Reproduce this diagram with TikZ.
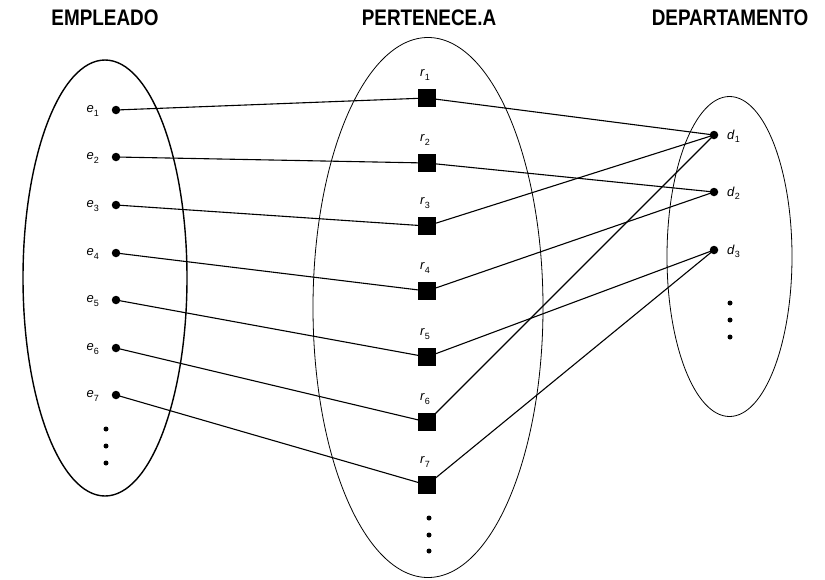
\documentclass[tikz,border=0pt]{standalone}
\usepackage{fontspec}
\setmainfont{Liberation Sans}
\setsansfont{Liberation Sans}
\newfontfamily\titlefont[FakeStretch=0.84]{Liberation Sans}
\newcommand\lbl[2]{\textit{#1}\raisebox{-0.45ex}{\fontsize{9}{9}\selectfont #2}}
\begin{document}
\begin{tikzpicture}[x=1pt,y=-1pt,
  title/.style={font=\titlefont\bfseries\fontsize{22.5}{22.5}\selectfont, anchor=base, inner sep=0},
  edot/.style={circle, fill=black, inner sep=0, minimum size=8.5pt},
  rbox/.style={rectangle, fill=black, inner sep=0, minimum size=18pt},
  sdot/.style={circle, fill=black, inner sep=0, minimum size=5pt},
  lab/.style={font=\fontsize{13}{13}\selectfont, inner sep=0},
  link/.style={line width=1.1pt},
  setline/.style={line width=0.8pt}]
\useasboundingbox (0,0) rectangle (825,579);
% titles
\node[title] (tE) at (105,25) {EMPLEADO};
\node[title] (tR) at (429,25) {PERTENECE.A};
\node[title] (tD) at (730,25) {DEPARTAMENTO};
% sets
\draw[line width=1.4pt] (105,278) ellipse [x radius=82, y radius=218];
\draw[setline] (428,307.5) ellipse [x radius=115, y radius=270];
\draw[setline] (729.5,256.5) ellipse [x radius=62.5, y radius=160];
% employees
\foreach \i/\y in {1/110,2/157,3/205,4/253,5/300,6/348,7/395}{
  \node[edot] (e\i) at (116,\y) {};
  \node[lab, anchor=east] (le\i) at (99,\y+1) {\lbl{e}{\i}};
}
\node[sdot] (ed1) at (106,429) {};
\node[sdot] (ed2) at (106,446) {};
\node[sdot] (ed3) at (106,463) {};
% relationship instances
\foreach \i/\y in {1/98,2/163,3/226,4/291,5/357,6/422,7/485}{
  \node[rbox] (r\i) at (427,\y) {};
  \node[lab] (lr\i) at (425,\y-23) {\lbl{r}{\i}};
}
\node[sdot] (rd1) at (429,518) {};
\node[sdot] (rd2) at (429,535) {};
\node[sdot] (rd3) at (429,551) {};
% departments
\foreach \i/\y in {1/135,2/192,3/250}{
  \node[edot] (d\i) at (714,\y) {};
  \node[lab, anchor=west] (ld\i) at (727,\y+1) {\lbl{d}{\i}};
}
\node[sdot] (dd1) at (730,303) {};
\node[sdot] (dd2) at (730,320) {};
\node[sdot] (dd3) at (730,337) {};
% links
\foreach \i in {1,...,7}{ \draw[link] (e\i.center) -- (r\i.center); }
\draw[link] (r1.center) -- (d1.center);
\draw[link] (r2.center) -- (d2.center);
\draw[link] (r3.center) -- (d1.center);
\draw[link] (r4.center) -- (d2.center);
\draw[link] (r5.center) -- (d3.center);
\draw[link] (r6.center) -- (d1.center);
\draw[link] (r7.center) -- (d3.center);
\end{tikzpicture}
\end{document}
